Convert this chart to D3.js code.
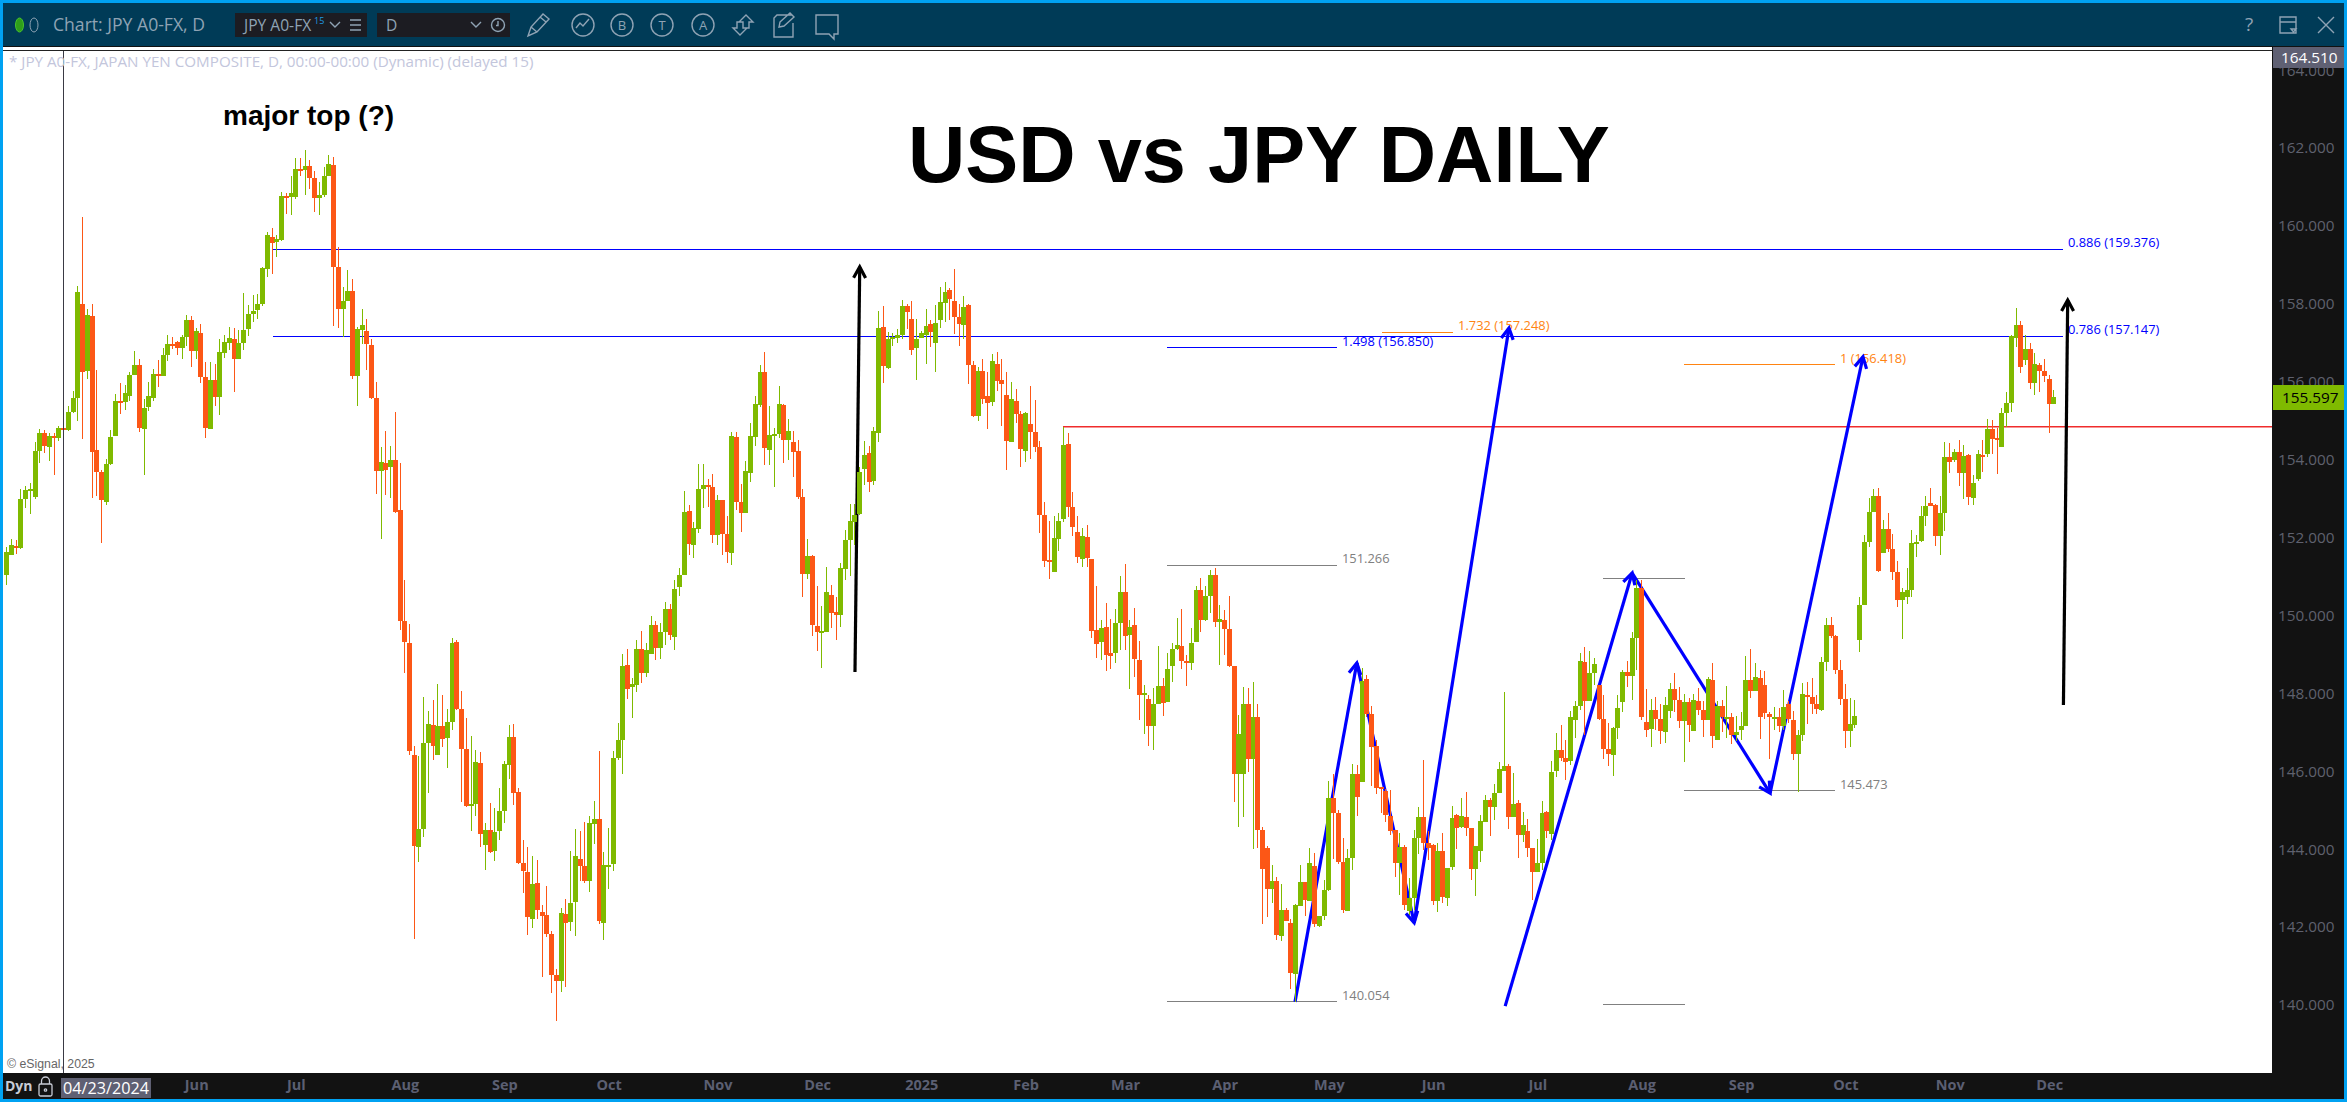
<!DOCTYPE html>
<html><head><meta charset="utf-8">
<script src="https://cdnjs.cloudflare.com/ajax/libs/d3/7.8.5/d3.min.js"></script>
<style>html,body{margin:0;padding:0;background:#fff;overflow:hidden}svg{display:block}</style>
</head><body><svg id="c" width="2347" height="1102"></svg>
<script>
const opens=[151.03,151.54,151.78,151.72,152.98,153.19,153.03,154.21,154.68,154.32,
154.60,154.55,154.80,154.75,155.21,155.57,157.99,156.27,157.68,154.24,
153.67,152.90,153.88,154.60,155.50,155.47,155.63,156.17,156.42,154.78,
155.34,155.57,156.19,156.14,156.68,156.96,157.01,156.86,157.14,157.58,
156.78,157.24,156.11,154.78,156.04,155.60,156.73,156.99,157.09,156.58,
156.99,157.35,157.73,157.83,157.99,158.89,159.71,159.58,159.63,160.76,
160.73,160.73,161.45,161.43,161.53,161.22,160.71,160.79,161.27,161.56,
158.94,157.86,158.07,158.32,156.14,157.32,157.29,156.94,155.57,153.70,
153.91,153.80,153.98,152.70,149.85,149.29,146.41,144.04,144.51,146.71,
147.18,146.41,147.16,146.85,147.25,149.31,147.59,146.56,145.10,145.16,
146.20,144.10,144.48,143.95,144.46,144.97,146.16,146.87,145.46,143.64,
143.40,142.20,143.12,142.38,142.30,141.82,140.76,140.60,142.33,142.12,
142.64,143.74,143.55,143.18,144.64,144.77,142.10,143.53,143.61,146.33,
146.79,148.72,148.15,148.21,149.13,148.52,149.00,149.75,149.15,149.56,
150.15,149.44,150.72,151.03,152.67,151.81,152.21,153.24,153.34,153.29,
152.05,152.95,152.08,151.59,154.57,152.90,152.62,153.65,154.57,155.39,
156.24,154.24,154.60,154.65,155.39,154.50,154.44,154.21,153.03,151.06,
151.52,149.72,149.54,149.57,150.52,150.08,150.00,151.18,151.93,152.39,
152.60,153.75,154.16,153.44,154.68,157.40,156.34,157.09,157.11,157.19,
157.94,157.60,156.86,157.11,157.19,157.47,156.99,157.58,158.01,158.35,
158.06,157.65,157.45,157.96,156.42,155.11,156.27,155.63,155.47,156.45,
156.04,155.65,154.44,155.50,155.16,154.21,154.91,154.70,154.32,152.57,
151.41,151.11,151.95,152.47,154.39,152.78,152.13,151.44,152.00,151.44,
149.62,149.31,149.69,149.03,149.03,149.80,150.59,149.49,149.75,148.85,
147.95,147.85,147.15,147.72,148.18,147.77,148.69,149.13,149.21,148.82,
148.77,149.31,150.64,149.87,150.49,151.03,149.82,149.87,149.64,148.69,
145.92,145.92,147.72,146.31,147.38,144.48,144.02,142.97,143.17,141.76,
142.43,142.10,140.79,142.53,143.15,142.66,143.56,142.02,142.28,142.94,
145.31,144.92,143.66,142.40,143.76,145.92,145.72,148.36,147.46,146.64,
145.59,145.48,144.84,144.48,143.64,144.05,142.40,142.74,144.28,144.82,
144.15,144.10,142.66,143.94,142.74,143.53,144.87,144.56,144.82,144.53,
143.48,143.94,144.69,145.25,145.07,145.43,146.00,146.13,144.82,145.18,
144.36,144.46,144.02,143.40,143.64,144.95,144.38,146.00,146.54,146.33,
146.25,147.31,147.67,148.80,147.80,148.51,148.21,147.33,146.56,146.41,
147.10,147.77,148.54,148.44,149.41,150.70,147.26,147.08,147.56,147.33,
146.99,147.54,148.10,147.82,147.28,147.77,147.02,147.79,147.56,147.31,
148.33,146.79,147.67,147.33,147.38,146.92,147.05,147.15,148.33,148.05,
148.39,148.21,147.46,147.33,147.38,147.15,147.72,147.31,146.43,146.92,
147.95,147.90,147.72,147.56,148.80,149.75,149.46,148.59,147.85,147.02,
147.18,149.36,150.26,151.88,152.65,153.06,151.59,152.21,151.70,151.11,
150.39,150.46,150.64,151.83,151.90,152.54,152.88,152.83,152.03,152.62,
154.06,153.98,154.19,153.65,154.11,153.01,153.49,154.11,154.14,154.78,
154.55,154.32,155.19,155.45,157.11,157.45,156.55,156.83,155.96,156.42,
156.27,156.06,155.42];
const closes=[151.62,151.80,151.72,152.98,153.21,153.24,154.21,154.68,154.34,154.60,
154.56,154.80,154.76,155.21,155.57,158.30,156.24,157.71,154.19,153.67,
152.96,153.88,154.57,155.50,155.45,155.70,156.17,156.42,154.80,155.32,
155.63,156.19,156.14,156.68,156.96,156.92,156.86,157.14,157.58,156.78,
157.29,156.11,154.80,156.04,155.60,156.76,157.01,157.11,156.58,156.99,
157.32,157.73,157.81,157.99,158.91,159.76,159.55,159.66,160.76,160.71,
160.84,161.45,161.40,161.53,161.22,160.71,160.79,161.27,161.58,158.94,
157.86,158.07,158.32,156.14,157.35,157.45,156.96,155.57,153.70,153.93,
153.73,153.98,152.65,149.85,149.32,146.51,144.07,144.51,146.71,147.21,
146.64,147.16,146.82,147.25,149.29,147.59,146.56,145.10,145.16,146.23,
144.38,144.48,143.92,144.43,144.97,146.17,146.87,145.43,143.64,143.43,
142.25,143.10,142.43,142.28,141.82,140.76,140.60,142.36,142.09,142.61,
143.81,143.55,143.18,144.66,144.77,142.15,143.58,143.58,146.33,146.79,
148.69,148.10,148.23,149.13,148.52,149.10,149.75,149.15,149.56,150.15,
149.50,150.67,151.03,152.65,151.83,152.24,153.24,153.34,153.29,152.05,
152.95,152.08,151.62,154.60,152.90,152.62,153.70,154.60,155.42,156.24,
154.29,154.62,154.65,155.42,154.50,154.73,154.19,153.03,151.06,151.52,
149.75,149.57,149.59,150.59,150.05,150.00,151.21,151.93,152.42,152.57,
153.67,154.11,153.42,154.73,157.37,156.40,157.09,157.14,157.19,157.94,
157.78,156.81,157.09,157.24,157.42,157.27,157.50,158.04,158.30,158.12,
157.65,157.47,157.91,156.42,155.11,156.27,155.55,155.45,156.52,156.01,
155.93,154.47,155.55,155.16,154.27,155.19,154.70,154.32,152.57,151.39,
151.36,151.98,152.42,154.37,152.78,152.26,151.49,152.03,151.47,149.59,
149.26,149.67,148.98,148.95,149.80,150.59,149.46,149.69,148.87,147.95,
148.00,147.15,147.72,148.18,147.74,148.62,149.13,149.23,148.82,148.77,
149.28,150.64,149.87,150.49,151.03,149.82,149.90,149.64,148.69,145.92,
146.95,147.72,146.31,147.38,144.48,143.48,142.97,143.17,141.79,142.43,
142.15,140.81,142.56,143.15,142.69,143.64,142.07,142.28,142.94,145.31,
144.92,143.66,142.43,143.76,145.92,145.33,148.31,147.46,146.61,145.56,
145.54,144.87,144.46,143.64,144.05,142.56,142.74,144.28,144.82,144.15,
144.02,142.66,143.94,142.76,143.51,144.79,144.53,144.84,144.53,143.48,
144.07,144.71,145.25,145.07,145.43,146.05,146.13,144.82,145.15,144.36,
144.61,144.02,143.40,143.64,144.92,144.46,145.97,146.54,146.33,146.23,
147.38,147.67,148.82,147.80,148.51,148.75,147.33,146.56,146.43,147.10,
147.61,148.54,148.44,149.41,150.70,147.38,147.05,147.56,147.33,147.02,
147.69,148.10,147.82,147.28,147.77,147.18,147.82,147.56,147.31,148.36,
146.90,147.67,147.38,147.38,146.92,147.00,147.15,148.33,148.05,148.41,
147.38,147.49,147.38,147.38,147.15,147.64,147.33,146.43,146.92,147.97,
147.90,147.72,147.59,148.80,149.75,149.46,148.59,147.85,147.02,147.20,
147.41,150.26,151.88,152.65,153.06,151.13,152.21,151.70,151.11,150.39,
150.59,150.64,151.85,151.88,152.54,152.80,152.80,152.03,152.62,154.06,
153.93,154.19,153.65,154.08,153.03,153.39,154.14,154.06,154.78,154.52,
154.50,155.19,155.45,157.17,157.45,156.37,156.83,155.96,156.45,156.27,
156.14,155.42,155.597];
const highs=[151.74,151.95,151.93,153.24,153.32,153.39,154.44,154.78,154.75,154.68,
154.68,154.86,154.80,155.37,155.75,158.45,160.22,157.86,157.99,156.29,
153.73,154.01,154.75,155.68,155.96,155.91,156.24,156.78,156.58,155.55,
155.98,156.32,156.55,156.86,157.19,157.14,157.04,157.19,157.70,157.68,
157.37,157.47,156.50,156.50,156.45,157.09,157.19,157.40,157.37,157.32,
158.27,157.96,158.22,158.25,158.94,159.84,159.94,159.76,160.86,160.84,
161.27,161.74,161.74,161.94,161.68,161.40,161.12,161.50,161.81,161.76,
159.45,158.42,158.86,158.63,157.40,157.86,157.60,157.09,155.98,154.32,
154.73,154.34,155.21,153.91,150.90,149.77,146.64,146.39,147.90,147.54,
147.82,148.23,147.95,147.59,149.41,149.35,148.05,147.36,146.90,146.54,
146.48,144.66,145.17,145.05,145.56,146.26,147.18,147.21,145.56,144.23,
144.04,143.81,143.72,142.56,143.05,141.90,140.91,142.47,142.70,143.95,
144.51,144.46,144.69,144.84,145.23,146.51,143.92,144.54,146.51,147.22,
149.00,149.13,148.38,149.36,149.60,149.29,149.98,149.85,149.80,150.34,
150.28,150.90,151.21,153.19,152.83,152.38,153.88,153.88,153.49,153.62,
153.08,152.95,152.54,154.70,154.70,153.37,153.96,154.93,155.63,156.42,
156.75,155.37,154.80,155.88,155.42,155.03,154.73,154.50,153.24,151.95,
151.54,150.75,150.23,151.23,150.77,150.47,151.34,152.19,152.85,152.85,
153.80,154.47,154.34,154.83,157.81,157.94,157.27,157.24,157.35,158.09,
157.99,158.06,157.60,157.30,157.86,157.58,157.96,158.42,158.55,158.40,
158.89,157.99,158.19,157.99,156.52,156.37,156.58,156.24,156.70,156.76,
156.58,156.24,155.99,155.81,155.24,155.21,155.88,155.52,154.47,152.90,
152.42,152.54,152.62,154.84,154.68,153.16,152.54,152.24,152.31,151.44,
150.75,149.87,150.31,149.90,150.16,151.00,151.31,149.87,150.18,149.34,
148.21,147.95,148.13,149.21,148.39,149.03,149.28,149.93,150.16,148.98,
149.67,150.75,150.95,150.75,151.16,151.21,150.26,150.13,150.49,148.69,
147.44,148.15,148.13,148.28,147.72,144.56,144.07,143.58,143.28,143.10,
142.48,142.20,142.58,143.58,143.15,144.02,143.89,142.28,143.20,145.74,
145.92,144.99,144.28,143.99,146.18,146.15,148.64,148.46,147.67,146.79,
145.59,145.54,145.51,144.48,144.41,144.10,143.25,144.48,145.07,146.28,
144.46,144.12,144.15,144.41,143.51,145.10,144.89,145.30,145.46,144.53,
144.07,144.87,145.38,145.30,145.66,146.23,148.03,146.18,145.95,145.25,
144.94,144.77,144.02,144.25,145.23,144.97,146.25,146.97,147.18,146.79,
147.54,147.80,149.03,149.18,149.08,148.90,148.21,147.95,147.23,147.13,
147.95,148.59,148.82,149.57,150.90,150.90,148.10,147.85,147.90,147.72,
147.90,148.26,148.51,148.15,147.97,147.87,147.97,148.13,147.79,148.41,
148.77,147.79,147.82,148.18,147.49,147.41,147.51,148.95,149.13,148.77,
148.59,148.56,147.51,147.64,147.61,148.08,147.79,147.54,147.05,148.26,
148.28,148.39,147.95,148.92,149.93,149.95,149.49,148.85,148.23,147.87,
147.82,150.47,152.06,153.01,153.24,153.26,152.44,152.62,152.08,151.39,
150.70,151.21,152.18,152.06,152.80,153.06,153.26,152.85,153.06,154.44,
154.42,154.26,154.50,154.37,154.14,153.60,154.24,154.50,155.03,155.01,
154.80,155.32,155.73,157.19,157.88,157.55,157.19,156.99,156.73,156.47,
156.57,156.16,155.78];
const lows=[150.77,151.54,151.57,151.70,152.75,152.60,152.98,153.90,154.16,153.96,
153.60,154.47,154.55,154.73,155.19,154.98,154.52,156.06,153.01,153.06,
151.85,152.83,153.85,154.60,155.17,155.27,155.50,156.17,154.70,153.60,
155.24,155.50,155.86,156.14,156.52,156.83,156.68,156.58,156.91,156.37,
156.58,155.96,154.55,154.78,155.37,155.14,156.60,156.81,155.73,156.58,
156.81,157.17,157.53,157.60,157.94,158.68,158.76,159.19,159.60,160.30,
160.27,160.68,161.27,160.79,160.94,160.35,160.27,160.73,161.27,157.42,
157.37,157.14,158.07,156.06,155.37,156.96,156.29,155.55,153.11,151.95,
153.08,153.01,152.62,149.61,148.52,146.40,141.68,143.65,144.31,145.43,
146.28,146.41,146.62,146.08,147.05,147.56,145.20,145.08,144.46,144.84,
144.04,143.46,143.88,143.69,144.23,144.66,145.79,145.12,143.61,142.87,
141.79,141.97,142.20,140.71,141.74,140.29,139.58,140.32,140.45,141.90,
141.76,143.18,143.12,142.89,144.12,142.07,141.66,142.96,143.42,146.28,
145.92,147.85,147.36,148.02,148.26,148.41,149.00,148.84,148.87,149.23,
149.35,149.10,150.49,151.03,151.54,151.47,152.10,152.75,152.77,151.85,
151.80,151.54,151.34,151.28,152.70,152.13,152.62,153.42,154.34,155.34,
153.85,153.85,153.29,154.55,153.91,153.98,153.55,152.98,150.47,150.93,
149.46,149.08,148.64,149.57,149.67,149.36,149.69,150.90,151.00,151.80,
152.57,153.34,153.16,153.34,154.44,155.96,156.32,156.91,156.99,157.09,
157.35,156.68,156.04,157.11,156.45,156.88,156.24,157.37,157.53,157.58,
157.22,156.91,157.09,155.93,155.09,154.98,155.42,154.78,155.37,155.75,
154.86,153.73,154.44,154.93,153.80,153.93,154.01,154.19,152.11,151.23,
150.93,151.11,151.65,152.39,152.52,152.03,151.34,151.23,151.23,149.41,
148.91,148.85,148.57,148.62,148.77,149.10,149.10,148.10,148.41,147.31,
146.95,146.64,146.54,147.72,147.41,147.77,148.28,149.10,148.62,148.18,
148.59,149.31,149.57,149.85,150.05,149.69,148.72,148.98,148.67,145.20,
144.56,144.82,145.97,143.99,144.02,142.07,142.25,142.61,141.66,141.63,
142.15,140.40,140.054,142.53,142.28,142.66,141.99,141.99,142.17,142.91,
143.74,143.61,142.35,142.40,143.46,144.84,145.72,147.38,145.61,145.41,
144.92,144.69,144.35,143.28,142.81,142.43,142.30,142.43,143.87,143.97,
143.71,142.56,142.38,142.61,142.53,143.46,143.99,144.53,144.33,143.20,
142.79,143.66,144.69,144.33,144.74,145.43,146.00,144.51,144.82,143.76,
144.18,143.79,142.69,143.40,143.46,144.28,144.23,145.84,146.25,145.77,
146.15,146.85,147.56,146.92,147.80,148.21,147.31,146.30,146.13,145.87,
146.82,147.51,148.15,147.82,148.59,147.31,146.87,146.61,147.05,146.69,
146.72,147.36,147.51,147.10,146.23,146.74,147.02,147.43,146.87,147.31,
146.59,146.79,147.00,146.84,146.69,146.77,146.79,147.15,147.87,148.05,
146.82,147.33,146.30,147.05,147.00,147.05,147.23,146.28,145.47,146.77,
147.20,147.46,147.46,147.54,148.56,149.41,148.49,147.69,146.59,146.61,
147.10,149.05,150.26,151.75,152.65,151.11,151.59,151.62,150.90,150.21,
149.39,150.28,150.46,151.49,151.88,152.29,152.80,151.77,151.54,152.16,
153.65,153.93,153.31,152.98,152.83,152.83,153.44,153.67,154.06,154.14,
153.62,154.32,154.83,155.21,156.88,156.22,156.42,155.80,155.65,155.73,
155.98,154.68,155.42];
const priceTicks=[140,142,144,146,148,150,152,154,156,158,160,162,164];
const monthBars=[40,61,84,105,127,150,171,193,215,236,257,279,301,323,345,366,388,410,431];
const monthLabels=["Jun","Jul","Aug","Sep","Oct","Nov","Dec","2025","Feb","Mar","Apr","May","Jun","Jul","Aug","Sep","Oct","Nov","Dec"];
// horizontal studies: price, first bar, last bar, label, kind
const levelPrices=[159.376,157.147,156.850,157.248,156.418,151.266,140.054,145.473,150.92,140.00,154.82];
const levelFrom=[56.1,56.1,244.8,290.2,353.9,244.8,244.8,353.9,336.8,336.8,222.9];
const levelTo=[433.9,433.9,280.7,305.2,385.8,280.7,280.7,385.8,354.2,354.2,478];
const levelText=["0.886 (159.376)","0.786 (157.147)","1.498 (156.850)","1.732 (157.248)","1 (156.418)","151.266","140.054","145.473","","",""];
const levelKind=["blue","blue","blue","orange","orange","gray","gray","gray","gray","gray","red"];
// hand-drawn arrows: [bar, price] → [bar, price]
const blueArrows=[[271.85,140.07,284.9,148.77],[284.9,148.77,297,142.10],[297,142.10,317,157.37],[316.2,139.96,343,151.08],[343,151.08,372.1,145.43],[372.1,145.43,391.7,156.63]];
const blackArrows=[[179,148.54,180,158.94],[434,147.69,434.9,158.09]];
const crossBar=12, lastPrice=155.597, crossPrice=164.51;

const W=2347,H=1102,plotR=2272,plotB=1073,plotT=51;
const svg=d3.select("#c");
const x=d3.scaleLinear().domain([0,432]).range([6.7,6.7+432*4.739]);
const y=d3.scaleLinear().domain([140,158]).range([1004.6,303.5]);
const col={blue:"#0000ff",orange:"#ff8412",gray:"#808080",red:"#f02c2c"};
const UI="'Open Sans',sans-serif";
const bar=i=>Math.floor(x(i));

svg.append("rect").attr("width",W).attr("height",H).attr("fill","#fff");
svg.append("clipPath").attr("id","pc").append("rect").attr("x",3).attr("y",plotT).attr("width",plotR-3).attr("height",plotB-plotT);
const plot=svg.append("g").attr("clip-path","url(#pc)");

// levels
const kinds=levelPrices.map((p,i)=>({p,a:levelFrom[i],b:levelTo[i],t:levelText[i],k:levelKind[i]}));
plot.selectAll("rect.lvl").data(kinds).join("rect").attr("class","lvl")
 .attr("x",d=>Math.round(x(d.a))).attr("width",d=>Math.round(x(d.b)-x(d.a)))
 .attr("y",d=>Math.round(y(d.p))-1).attr("height",d=>d.k==="red"?1.5:1).attr("fill",d=>col[d.k]);
plot.selectAll("text.lvl").data(kinds.filter(d=>d.t)).join("text").attr("class","lvl")
 .attr("x",d=>x(d.b)+5).attr("y",d=>y(d.p)-2.5).text(d=>d.t).attr("fill",d=>col[d.k])
 .attr("font-family",UI).attr("font-size",12.9);

// arrows
function arrow(g,a,color,w,len,half){
  const x1=x(a[0]),y1=y(a[1]),x2=x(a[2]),y2=y(a[3]);
  const dx=x2-x1,dy=y2-y1,L=Math.hypot(dx,dy),ux=dx/L,uy=dy/L;
  const bx=x2-ux*len,by=y2-uy*len;
  g.append("line").attr("x1",x1).attr("y1",y1).attr("x2",x2).attr("y2",y2).attr("stroke",color).attr("stroke-width",w);
  g.append("path").attr("d",`M${bx-uy*half},${by+ux*half}L${x2},${y2}L${bx+uy*half},${by-ux*half}`)
   .attr("fill","none").attr("stroke",color).attr("stroke-width",w);
}
blueArrows.forEach(a=>arrow(plot,a,"#0000ff",3.2,11,6));
blackArrows.forEach(a=>arrow(plot,a,"#000",3.2,11,6));

// candles
const data=opens.map((o,i)=>({i,o,h:highs[i],l:lows[i],c:closes[i]}));
const up=d=>d.c>=d.o;
const gC=plot.selectAll("g.k").data(data).join("g").attr("class","k").attr("shape-rendering","crispEdges")
  .attr("fill",d=>up(d)?"#7fba00":"#fc5716");
gC.append("rect").attr("x",d=>bar(d.i)).attr("width",1)
  .attr("y",d=>Math.round(y(d.h))).attr("height",d=>Math.max(1,Math.round(y(d.l))-Math.round(y(d.h))));
gC.append("rect").attr("x",d=>bar(d.i)-2).attr("width",5)
  .attr("y",d=>Math.round(y(Math.max(d.o,d.c)))).attr("height",d=>Math.max(2,Math.round(y(Math.min(d.o,d.c)))-Math.round(y(Math.max(d.o,d.c)))));

// crosshair
plot.append("rect").attr("x",bar(crossBar)).attr("y",plotT-3).attr("width",1).attr("height",plotB-plotT+3).attr("fill","#3a3a44");
svg.append("rect").attr("x",3).attr("y",50).attr("width",plotR-3).attr("height",1).attr("fill","#222");

// titles
svg.append("text").attr("x",908).attr("y",182).text("USD vs JPY DAILY").attr("font-family","'Liberation Sans',Arial,sans-serif").attr("font-weight",700).attr("font-size",79.4).attr("fill","#000");
svg.append("text").attr("x",223).attr("y",125).text("major top (?)").attr("font-family","'Liberation Sans',Arial,sans-serif").attr("font-weight",700).attr("font-size",28).attr("fill","#000");
svg.append("text").attr("x",9).attr("y",67).text("* JPY A0-FX, JAPAN YEN COMPOSITE, D, 00:00-00:00 (Dynamic) (delayed 15)").attr("font-family",UI).attr("font-size",15.2).attr("fill","#c3c6dc");
svg.append("text").attr("x",7).attr("y",1068).text("© eSignal, 2025").attr("font-family","'Liberation Sans',Arial,sans-serif").attr("font-size",12.3).attr("fill","#666");

// right axis strip
svg.append("rect").attr("x",plotR).attr("y",47).attr("width",W-plotR).attr("height",H-47).attr("fill","#121212");
const yAxis=d3.axisRight(y).tickValues(priceTicks).tickFormat(d3.format(".3f")).tickSize(0).tickPadding(0);
const gy=svg.append("g").attr("transform",`translate(${plotR+6},0)`).call(yAxis);
gy.select(".domain").remove();
gy.selectAll("text").attr("fill","#5f616e").attr("font-family",UI).attr("font-size",15.3).attr("dy","0.34em");

// bottom axis strip
svg.append("rect").attr("x",0).attr("y",plotB).attr("width",W).attr("height",H-plotB).attr("fill","#121212");
const xAxis=d3.axisBottom(x).tickValues(monthBars).tickFormat((d,i)=>monthLabels[i]).tickSize(0).tickPadding(0);
const gx=svg.append("g").attr("transform",`translate(0,${plotB+7})`).call(xAxis);
gx.select(".domain").remove();
gx.selectAll("text").attr("fill","#5b5f72").attr("font-family",UI).attr("font-weight",700).attr("font-size",14.5);

svg.append("text").attr("x",5).attr("y",1091).text("Dyn").attr("fill","#c8ccd6").attr("font-family",UI).attr("font-weight",700).attr("font-size",14);
const lk=svg.append("g").attr("fill","none").attr("stroke","#c8ccd6").attr("stroke-width",1.3);
lk.append("rect").attr("x",39).attr("y",1084).attr("width",13).attr("height",12).attr("rx",1.5);
lk.append("path").attr("d","M41.5,1084v-3a4,4 0 0 1 8,0v3");
lk.append("circle").attr("cx",45.5).attr("cy",1090).attr("r",1.2);
svg.append("rect").attr("x",61).attr("y",1078).attr("width",90).attr("height",20).attr("fill","#5f6073");
svg.append("text").attr("x",106).attr("y",1094).attr("text-anchor","middle").text("04/23/2024").attr("fill","#fff").attr("font-family",UI).attr("font-size",16.2);

// price tags
svg.append("rect").attr("x",plotR+1).attr("y",47).attr("width",W-plotR-4).attr("height",21).attr("fill","#5f6073");
svg.append("text").attr("x",plotR+9).attr("y",62.5).text(crossPrice.toFixed(3)).attr("fill","#fff").attr("font-family",UI).attr("font-size",15.3);
svg.append("rect").attr("x",plotR+1).attr("y",385).attr("width",W-plotR-4).attr("height",25).attr("fill","#7fba00");
svg.append("text").attr("x",plotR+10).attr("y",403).text(lastPrice.toFixed(3)).attr("fill","#000").attr("font-family",UI).attr("font-size",15.3);

// title bar
svg.append("rect").attr("x",0).attr("y",0).attr("width",W).attr("height",46).attr("fill","#003b57");
svg.append("rect").attr("x",0).attr("y",46).attr("width",W).attr("height",1).attr("fill","#111");
const ic="#8fa3b4";
svg.append("ellipse").attr("cx",19.5).attr("cy",25).attr("rx",4).attr("ry",7).attr("fill","#2e9e1a").attr("stroke","#47c32c");
svg.append("ellipse").attr("cx",34).attr("cy",25).attr("rx",4).attr("ry",7).attr("fill","none").attr("stroke",ic);
svg.append("text").attr("x",53).attr("y",31).text("Chart: JPY A0-FX, D").attr("fill",ic).attr("font-family",UI).attr("font-size",17.6);
svg.append("rect").attr("x",235).attr("y",13).attr("width",132).attr("height",24).attr("fill","#1c1c22");
svg.append("rect").attr("x",377).attr("y",13).attr("width",133).attr("height",24).attr("fill","#1c1c22");
svg.append("text").attr("x",244).attr("y",30.5).text("JPY A0-FX").attr("fill",ic).attr("font-family",UI).attr("font-size",15.6);
svg.append("text").attr("x",314).attr("y",24).text("15").attr("fill","#1f9be0").attr("font-family",UI).attr("font-size",9);
svg.append("text").attr("x",386).attr("y",30.5).text("D").attr("fill",ic).attr("font-family",UI).attr("font-size",15.6);
const ig=svg.append("g").attr("fill","none").attr("stroke",ic).attr("stroke-width",1.4);
ig.append("path").attr("d","M330,22l5,5l5,-5M350,20h11M350,25h11M350,30h11M471,22l5,5l5,-5");
ig.append("circle").attr("cx",498).attr("cy",25).attr("r",6.5);
ig.append("path").attr("d","M498,21v4.5h-2");
ig.append("path").attr("d","M528,36l3,-9l12,-13l6,5l-12,13zM540,17l6,5M531,27l6,5");
ig.append("circle").attr("cx",583).attr("cy",25).attr("r",11);
ig.append("path").attr("d","M576,28l4,-5l3,3l6,-7");
[["B",622],["T",662],["A",703]].forEach(a=>{
  ig.append("circle").attr("cx",a[1]).attr("cy",25).attr("r",11);
  svg.append("text").attr("x",a[1]).attr("y",30).attr("text-anchor","middle").text(a[0]).attr("fill",ic).attr("font-family",UI).attr("font-size",13);
});
ig.append("path").attr("d","M746,15l7,7h-4v6h-6v-6h-4zM740,35l-7,-7h4v-6h6v6h4z");
ig.append("path").attr("d","M792,15h-15l-3,3v19h19v-14M780,22l10,-9l4,4l-10,9l-5,1z");
ig.append("path").attr("d","M816,15h22v19h-4v5l-5,-5h-13z");
svg.append("text").attr("x",2249).attr("y",31).attr("text-anchor","middle").text("?").attr("fill",ic).attr("font-family",UI).attr("font-size",19);
ig.append("path").attr("d","M2280,17h16v16h-16zM2280,22h16M2291,29l5,0l-2.5,3z");
ig.append("path").attr("d","M2318,17l16,16M2334,17l-16,16");

// window border
const bd="#00a2f2";
svg.append("rect").attr("x",0).attr("y",0).attr("width",W).attr("height",3).attr("fill",bd);
svg.append("rect").attr("x",0).attr("y",H-3).attr("width",W).attr("height",3).attr("fill",bd);
svg.append("rect").attr("x",0).attr("y",0).attr("width",3).attr("height",H).attr("fill",bd);
svg.append("rect").attr("x",W-3).attr("y",0).attr("width",3).attr("height",H).attr("fill",bd);
</script></body></html>
